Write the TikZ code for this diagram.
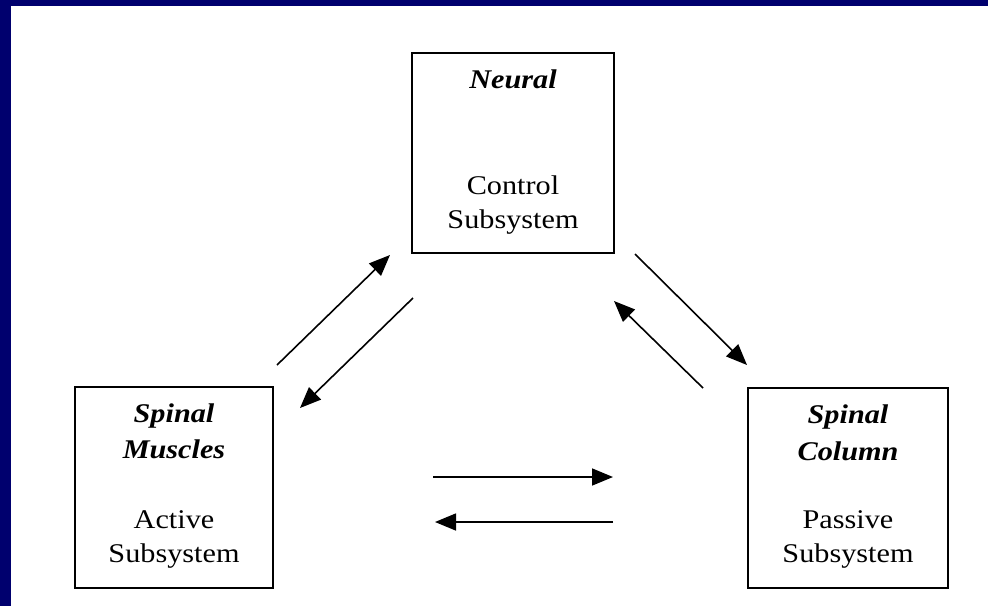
\documentclass[tikz,border=0pt]{standalone}
\usepackage{fontspec}
\setmainfont[FakeStretch=1.12]{Liberation Serif}
\usetikzlibrary{arrows.meta}
\definecolor{framebl}{RGB}{0,0,110}
\tikzset{
  box/.style={draw=black, line width=1.8pt, fill=white, minimum width=#1, inner sep=0pt},
  lbl/.style={anchor=base, inner sep=0pt, font=\fontsize{27}{30}\selectfont},
  ttl/.style={lbl, font=\fontsize{27}{30}\selectfont\bfseries\itshape},
  arr/.style={line width=1.6pt, -{Triangle[length=21pt,width=17pt]}}
}
\begin{document}
\begin{tikzpicture}[x=1pt,y=-1pt]
\useasboundingbox (0,0) rectangle (988,606);
\fill[white] (0,0) rectangle (988,606);
\fill[framebl] (0,0) rectangle (988,6);
\fill[framebl] (0,0) rectangle (11,606);
% boxes
\node[box=202pt, minimum height=200pt] (neural) at (513,153) {};
\node[box=198pt, minimum height=201pt] (muscles) at (174,487.5) {};
\node[box=200pt, minimum height=200pt] (column) at (848,488) {};
% texts
\node[ttl] (t1) at (513,88) {Neural};
\node[lbl] (t2) at (513,194) {Control};
\node[lbl] (t3) at (513,228) {Subsystem};
\node[ttl] (t4) at (174,422) {Spinal};
\node[ttl] (t5) at (174,458) {Muscles};
\node[lbl] (t6) at (174,528) {Active};
\node[lbl] (t7) at (174,562) {Subsystem};
\node[ttl] (t8) at (848,423) {Spinal};
\node[ttl] (t9) at (848,460) {Column};
\node[lbl] (t10) at (848,528) {Passive};
\node[lbl] (t11) at (848,562) {Subsystem};
% arrow end points
\coordinate (a1s) at (277,365); \coordinate (a1e) at (390,255);
\coordinate (a2s) at (413,298); \coordinate (a2e) at (300,408);
\coordinate (a3s) at (635,254); \coordinate (a3e) at (747,365);
\coordinate (a4s) at (703,388); \coordinate (a4e) at (614,301);
\coordinate (a5s) at (433,477); \coordinate (a5e) at (613,477);
\coordinate (a6s) at (613,522); \coordinate (a6e) at (435,522);
\draw[arr] (a1s) -- (a1e);
\draw[arr] (a2s) -- (a2e);
\draw[arr] (a3s) -- (a3e);
\draw[arr] (a4s) -- (a4e);
\draw[arr] (a5s) -- (a5e);
\draw[arr] (a6s) -- (a6e);
\end{tikzpicture}
\end{document}
